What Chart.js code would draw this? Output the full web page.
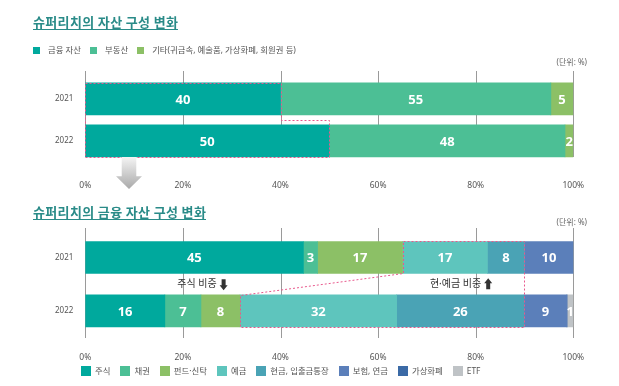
<!DOCTYPE html>
<html>
<head>
<meta charset="utf-8">
<script src="https://cdn.jsdelivr.net/npm/chart.js@4.4.0/dist/chart.umd.min.js"></script>
<style>
  body { margin: 0; width: 619px; height: 386px; background: #fff; position: relative; overflow: hidden;
         font-family: "Noto Sans", "Noto Sans CJK KR", sans-serif; }
  canvas { position: absolute; left: 0; }
  .title { position: absolute; left: 33px; font-size: 13px; font-weight: bold; color: #2a8b88;
           letter-spacing: 0.35px; line-height: 15px; border-bottom: 1px solid #2a8b88; white-space: nowrap;
           font-family: "Noto Sans CJK KR", sans-serif; }
  .unit { position: absolute; right: 32px; font-size: 8px; line-height: 10px; color: #666; }
  .legend { position: absolute; display: flex; align-items: center; font-size: 8.4px; line-height: 12px;
            color: #555; white-space: nowrap; }
  .legend .item { display: flex; align-items: center; }
  .legend .box { display: inline-block; }
  .down { position: absolute; left: 116px; top: 157px; width: 26px; height: 32px;
          background: linear-gradient(#f4f4f4, #a9a9a9);
          clip-path: polygon(22% 0, 78% 0, 78% 60%, 100% 60%, 50% 100%, 0 60%, 22% 60%); }
</style>
</head>
<body>
<canvas id="chartA" width="619" height="200" style="top:0"></canvas>
<canvas id="chartB" width="619" height="186" style="top:200px"></canvas>
<div class="title" style="top:14px">슈퍼리치의 자산 구성 변화</div>
<div id="legA" class="legend" style="top:44px; left:33px"></div>
<div class="unit" style="top:56.5px">(단위: %)</div>
<div class="down"></div>
<div class="title" style="top:204px">슈퍼리치의 금융 자산 구성 변화</div>
<div class="unit" style="top:216.5px">(단위: %)</div>
<div id="legB" class="legend" style="top:365px; left:81px"></div>
<script>
// data
var years = ['2021', '2022']
var pctTicks = [0, 20, 40, 60, 80, 100]

var assetNames = ['금융 자산', '부동산', '기타(귀금속, 예술품, 가상화폐, 회원권 등)']
var assetColors = ['#00a99d', '#4cbf95', '#8cc066']
var asset2021 = [40, 55.4, 4.6]
var asset2022 = [50, 48.3, 1.7]

var finNames = ['주식', '채권', '펀드·신탁', '예금', '현금, 입출금통장', '보험, 연금', '가상화폐', 'ETF']
var finColors = ['#00a99d', '#4cbf95', '#8cc066', '#5ec5bd', '#4aa3b5', '#5b7fba', '#3b6aa6', '#bfc3c6']
var fin2021 = [44.7, 2.9, 17.4, 17.4, 7.6, 10.0, 0, 0]
var fin2022 = [16.3, 7.4, 8.0, 32.1, 26.1, 8.8, 0, 1.3]

// annotations between the bars of the second chart
var notes = [
  { text: '주식 비중', at: 24, dir: 1 },
  { text: '현·예금 비중', at: 77, dir: -1 }
]

// vertical grid lines, a bit longer / shorter than the chart area
var vgrid = {
  id: 'vgrid',
  beforeDatasetsDraw: function (chart, args, opts) {
    var ctx = chart.ctx, a = chart.chartArea, x = chart.scales.x
    ctx.save()
    ctx.strokeStyle = '#9a9a9a'
    ctx.lineWidth = 1
    x.ticks.forEach(function (t) {
      var px = Math.round(x.getPixelForValue(t.value)) + 0.5
      ctx.beginPath()
      ctx.moveTo(px, a.top + opts.top)
      ctx.lineTo(px, a.bottom + opts.bottom)
      ctx.stroke()
    })
    ctx.restore()
  }
}

// value labels in the segments
var segLabels = {
  id: 'segLabels',
  afterDatasetsDraw: function (chart) {
    var ctx = chart.ctx
    ctx.save()
    ctx.font = 'bold 13px "Open Sans", "Noto Sans", sans-serif'
    ctx.fillStyle = '#fff'
    ctx.textAlign = 'center'
    ctx.textBaseline = 'middle'
    chart.data.datasets.forEach(function (ds, i) {
      chart.getDatasetMeta(i).data.forEach(function (bar, j) {
        var v = ds.data[j]
        if (!v) return
        ctx.fillText(Math.round(v), (bar.x + bar.base) / 2, bar.y + 1)
      })
    })
    ctx.restore()
  }
}

// pink dotted outline joining the same group in both years
var outline = {
  id: 'outline',
  afterDatasetsDraw: function (chart, args, opts) {
    var ctx = chart.ctx
    var first = chart.getDatasetMeta(opts.from).data
    var last = chart.getDatasetMeta(opts.to).data
    var r = function (v) { return Math.round(v) + 0.5 }
    var L0 = r(first[0].base), L1 = r(first[1].base)
    var R0 = r(last[0].x), R1 = r(last[1].x)
    var T0 = r(first[0].y - first[0].height / 2), B0 = r(first[0].y + first[0].height / 2)
    var T1 = r(first[1].y - first[1].height / 2), B1 = r(first[1].y + first[1].height / 2)
    var mid = r((B0 + T1) / 2 - 1)
    ctx.save()
    ctx.strokeStyle = '#e8588c'
    ctx.lineWidth = 1
    ctx.setLineDash([2, 2])
    ctx.beginPath()
    ctx.moveTo(L0, T0)
    ctx.lineTo(R0, T0)
    ctx.lineTo(R0, mid)
    ctx.lineTo(R1, mid)
    ctx.lineTo(R1, B1)
    ctx.lineTo(L1, B1)
    ctx.lineTo(L1, T1)
    ctx.lineTo(L0, B0)
    ctx.closePath()
    ctx.stroke()
    ctx.restore()
  }
}

var noteDraw = {
  id: 'noteDraw',
  afterDraw: function (chart) {
    var ctx = chart.ctx
    var y = chart.scales.y.getPixelForValue(0.5)
    ctx.save()
    ctx.font = '10px "Noto Sans", "Noto Sans CJK KR", sans-serif'
    ctx.fillStyle = '#333'
    ctx.textBaseline = 'middle'
    notes.forEach(function (n) {
      var w = ctx.measureText(n.text).width
      var cx = chart.scales.x.getPixelForValue(n.at)
      var x0 = cx - (w + 11) / 2
      ctx.textAlign = 'left'
      ctx.fillText(n.text, x0, y)
      // block arrow
      var ax = x0 + w + 7, d = n.dir
      ctx.beginPath()
      ctx.moveTo(ax - 2, y - 5 * d)
      ctx.lineTo(ax + 2, y - 5 * d)
      ctx.lineTo(ax + 2, y + 1 * d)
      ctx.lineTo(ax + 4, y + 1 * d)
      ctx.lineTo(ax, y + 6 * d)
      ctx.lineTo(ax - 4, y + 1 * d)
      ctx.lineTo(ax - 2, y + 1 * d)
      ctx.closePath()
      ctx.fill()
    })
    ctx.restore()
  }
}

function makeSets(names, colors, a, b) {
  return names.map(function (n, i) {
    return { label: n, data: [a[i], b[i]], backgroundColor: colors[i], borderWidth: 0, barThickness: 32 }
  })
}

function makeOptions(pad, xHeight, tickPad, grid, box) {
  return {
    indexAxis: 'y',
    responsive: false,
    animation: false,
    devicePixelRatio: 1,
    layout: { padding: pad },
    scales: {
      x: {
        stacked: true, min: 0, max: 100,
        afterBuildTicks: function (s) { s.ticks = pctTicks.map(function (v) { return { value: v } }) },
        afterFit: function (s) { s.height = xHeight },
        grid: { display: false },
        border: { display: false },
        ticks: { padding: tickPad, color: '#555', font: { family: '"Noto Sans"', size: 8.5 },
                 callback: function (v) { return v + '%' } }
      },
      y: {
        stacked: true,
        afterFit: function (s) { s.width = 85.3 },
        grid: { display: false, drawTicks: false },
        border: { display: false },
        ticks: { padding: 12, color: '#555', font: { family: '"Noto Sans"', size: 8 } }
      }
    },
    plugins: {
      legend: { display: false },
      tooltip: { enabled: false },
      vgrid: grid,
      outline: box
    }
  }
}

new Chart(document.getElementById('chartA'), {
  type: 'bar',
  data: { labels: years, datasets: makeSets(assetNames, assetColors, asset2021, asset2022) },
  options: makeOptions({ left: 0, right: 45.7, top: 77.8, bottom: 8.2 }, 30, 11,
                       { top: -6.8, bottom: -4.8 }, { from: 0, to: 0 }),
  plugins: [vgrid, segLabels, outline]
})

new Chart(document.getElementById('chartB'), {
  type: 'bar',
  data: { labels: years, datasets: makeSets(finNames, finColors, fin2021, fin2022) },
  options: makeOptions({ left: 0, right: 45.7, top: 30.8, bottom: 18.5 }, 30, 7.4,
                       { top: -2.8, bottom: 0.5 }, { from: 3, to: 4 }),
  plugins: [vgrid, segLabels, outline, noteDraw]
})

// legends
function buildLegend(el, names, colors, size, gap, textGap) {
  names.forEach(function (n, i) {
    var item = document.createElement('span')
    item.className = 'item'
    item.style.marginRight = gap + 'px'
    var box = document.createElement('span')
    box.className = 'box'
    box.style.width = size + 'px'
    box.style.height = size + 'px'
    box.style.background = colors[i]
    box.style.marginRight = textGap + 'px'
    item.appendChild(box)
    item.appendChild(document.createTextNode(n))
    el.appendChild(item)
  })
}
buildLegend(document.getElementById('legA'), assetNames, assetColors, 7, 9, 8)
buildLegend(document.getElementById('legB'), finNames, finColors, 10, 10, 4)
</script>
</body>
</html>
